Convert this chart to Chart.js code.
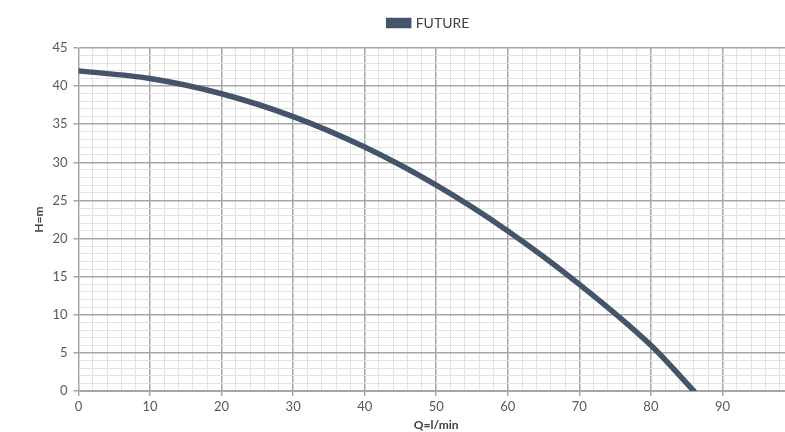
<!DOCTYPE html>
<html>
<head>
<meta charset="utf-8">
<script src="https://cdn.jsdelivr.net/npm/chart.js@4"></script>
<style>
  html, body { margin: 0; padding: 0; background: #fff; overflow: hidden; }
  #wrap { width: 836px; height: 432px; }
</style>
</head>
<body>
<div id="wrap"><canvas id="pumpChart"></canvas></div>
<script>
// Pump curve
const flow = [0, 10, 20, 30, 40, 50, 60, 70, 80, 86];
const head = [42, 41, 39, 36, 32, 27, 21, 14, 6, 0];

const lineColor = "#44546a";
const majorGrid = "#a6a6a6";
const minorGrid = "#e2e2e2";
const tickFont = { family: "Lato, 'Open Sans', sans-serif", size: 13 };

// give the legend a bit more room below it, and nudge it right
const legendGap = {
  id: "legendGap",
  beforeInit(chart) {
    const fit = chart.legend.fit;
    chart.legend.fit = function () {
      fit.call(this);
      this.height += 8;
    };
  },
  afterLayout(chart) {
    chart.legend.left += 16;
    chart.legend.right += 16;
  }
};

const ctx = document.getElementById("pumpChart").getContext("2d");

new Chart(ctx, {
  type: "line",
  data: {
    datasets: [{
      label: "FUTURE",
      data: flow.map((q, i) => ({ x: q, y: head[i] })),
      borderColor: lineColor,
      backgroundColor: lineColor,
      borderWidth: 5.5,
      borderCapStyle: "round",
      pointRadius: 0,
      cubicInterpolationMode: "monotone"
    }]
  },
  options: {
    responsive: true,
    maintainAspectRatio: false,
    animation: false,
    layout: { padding: { top: 4, right: 42, left: 32, bottom: 0 } },
    plugins: {
      legend: {
        display: true,
        labels: {
          boxWidth: 20,
          boxHeight: 5,
          padding: 12,
          color: "#404040",
          font: { family: "Lato, 'Open Sans', sans-serif", size: 14 }
        }
      },
      tooltip: { enabled: false }
    },
    scales: {
      x: {
        type: "linear",
        min: 0,
        max: 100,
        ticks: {
          stepSize: 2,
          autoSkip: false,
          maxRotation: 0,
          color: "#595959",
          font: tickFont,
          callback: v => (v % 10 === 0 && v < 100 ? v : "")
        },
        grid: {
          color: c => (c.tick.value % 10 === 0 ? majorGrid : minorGrid),
          tickColor: c => (c.tick.value % 10 === 0 ? majorGrid : "rgba(0,0,0,0)"),
          lineWidth: c => (c.tick.value % 10 === 0 ? 1.5 : 1),
          tickLength: 5
        },
        border: { color: majorGrid },
        title: {
          display: true,
          text: "Q=l/min",
          color: "#404040",
          font: { family: "Lato, 'Open Sans', sans-serif", size: 12, weight: "bold" },
          padding: { top: 0, bottom: 0 }
        }
      },
      y: {
        min: 0,
        max: 45,
        ticks: {
          stepSize: 1,
          autoSkip: false,
          color: "#595959",
          font: tickFont,
          padding: 6,
          callback: v => (v % 5 === 0 ? v : "")
        },
        grid: {
          color: c => (c.tick.value % 5 === 0 ? majorGrid : minorGrid),
          tickColor: c => (c.tick.value % 5 === 0 ? majorGrid : "rgba(0,0,0,0)"),
          lineWidth: c => (c.tick.value % 5 === 0 ? 1.5 : 1),
          tickLength: 5
        },
        border: { color: majorGrid },
        title: {
          display: true,
          text: "H=m",
          color: "#404040",
          font: { family: "Lato, 'Open Sans', sans-serif", size: 12, weight: "bold" },
          padding: { top: 0, bottom: 0 }
        }
      }
    }
  },
  plugins: [legendGap]
});
</script>
</body>
</html>
